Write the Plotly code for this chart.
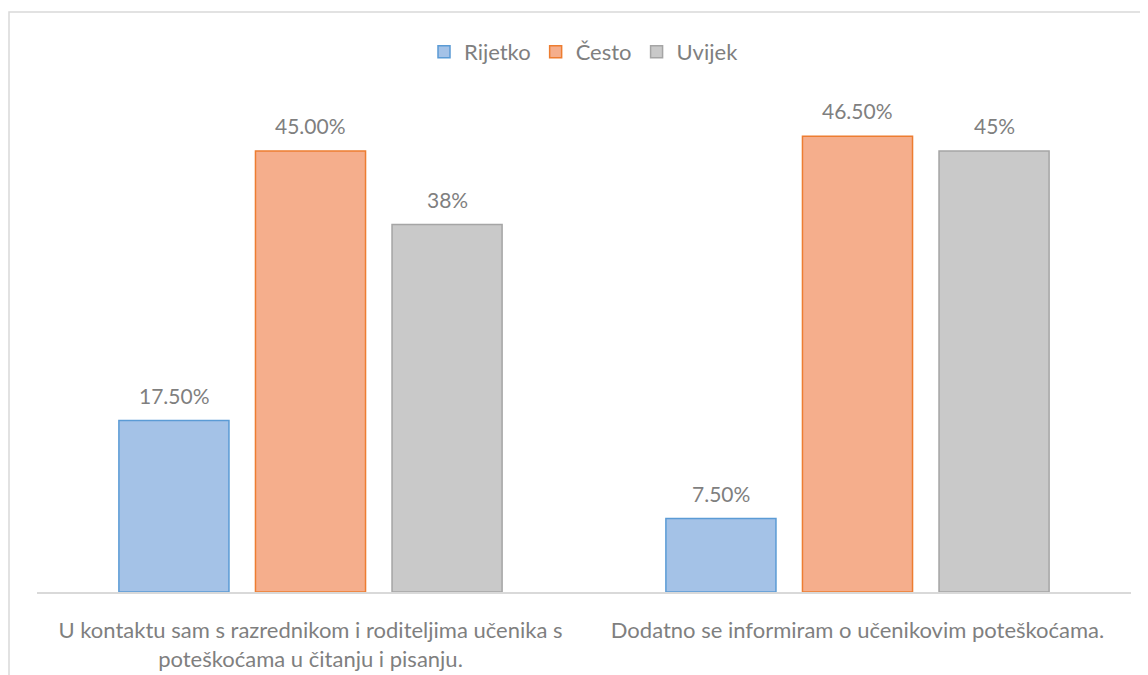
import plotly.graph_objects as go

categories = ["U kontaktu sam s razrednikom i roditeljima učenika s<br>poteškoćama u čitanju i pisanju.",
              "Dodatno se informiram o učenikovim poteškoćama."]
series_names = ["Rijetko", "Često", "Uvijek"]
rijetko = [0.175, 0.075]
cesto = [0.45, 0.465]
uvijek = [0.375, 0.45]
label_formats = ["{:.2%}", "{:.2%}", "{:.0%}"]

fills = ["#a4c2e7", "#f5ae8c", "#c9c9c9"]
borders = ["#5b9bd5", "#ed7d31", "#a5a5a5"]
FONT = "Lato"
TXT = "#7f7f7f"
BAR_PITCH = 136.5  # px between bar centres within a group

fig = go.Figure()
annotations = []
for i, (name, vals, fmt, fc, bc) in enumerate(zip(series_names, [rijetko, cesto, uvijek],
                                                   label_formats, fills, borders)):
    fig.add_trace(go.Bar(
        name=name, x=categories, y=vals,
        marker=dict(color=fc, line=dict(color=bc, width=1.5)),
        cliponaxis=False,
    ))
    for cat, v in zip(categories, vals):
        annotations.append(dict(
            x=cat, y=v, xref="x", yref="y", text=fmt.format(v), showarrow=False,
            xanchor="center", yanchor="bottom", xshift=(i - 1) * BAR_PITCH, yshift=11,
            font=dict(family=FONT, size=21, color=TXT),
        ))

fig.update_layout(
    width=1140, height=667,
    paper_bgcolor="white", plot_bgcolor="white",
    barmode="group", bargap=0.251, bargroupgap=0.194,
    margin=dict(l=29, r=17, t=94, b=83, autoexpand=False),
    font=dict(family=FONT, color=TXT),
    showlegend=True,
    legend=dict(orientation="h", x=0.5, xanchor="center", y=1.102, yanchor="middle",
                font=dict(family=FONT, size=22, color=TXT), itemwidth=30,
                traceorder="normal"),
    xaxis=dict(showline=True, linecolor="#d9d9d9", linewidth=2, ticks="",
               tickfont=dict(family=FONT, size=22, color=TXT), showgrid=False,
               ticklabelstandoff=18),
    yaxis=dict(range=[0, 0.5], visible=False, showgrid=False, zeroline=False),
    annotations=annotations,
    shapes=[dict(type="rect", xref="paper", yref="paper",
                 x0=-0.0256, x1=1.05, y0=-0.3, y1=1.1837,
                 line=dict(color="#d9d9d9", width=1.5), fillcolor="rgba(0,0,0,0)", layer="below")],
)

fig.write_html("out.html")
